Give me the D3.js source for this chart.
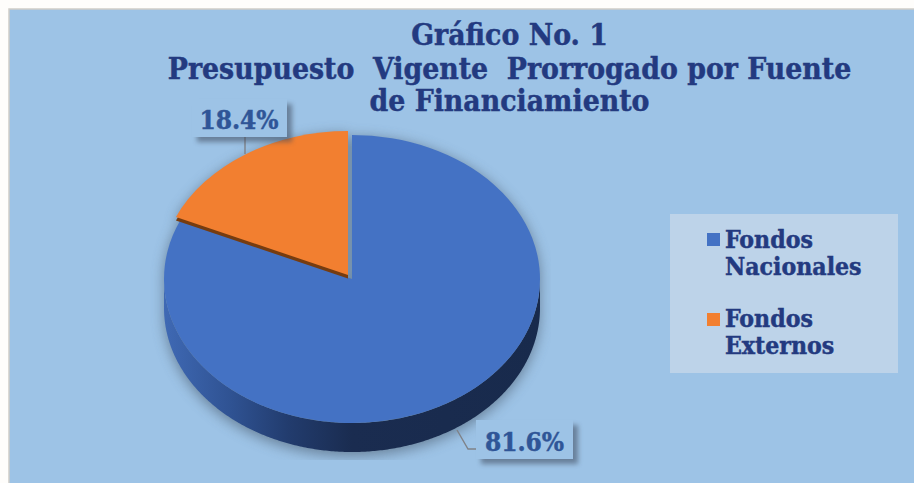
<!DOCTYPE html>
<html><head><meta charset="utf-8">
<script src="https://cdnjs.cloudflare.com/ajax/libs/d3/7.8.5/d3.min.js"></script>
<style>html,body{margin:0;padding:0;background:#fefdfb;overflow:hidden}svg{display:block}
text{font-family:"DejaVu Serif",serif;font-weight:700;font-stretch:condensed;stroke-width:0.45px;paint-order:stroke}</style></head><body>
<svg id="c" width="914" height="483"></svg>
<script>
const categories = ["Fondos Nacionales", "Fondos Externos"];
const values = [81.6, 18.4];
const valueLabels = ["81.6%", "18.4%"];
const titleLines = ["Gráfico No. 1", "Presupuesto  Vigente  Prorrogado por Fuente", "de Financiamiento"];
const legendLines = [["Fondos", "Nacionales"], ["Fondos", "Externos"]];
const colors = ["#4472C4", "#F27F30"];

const svg = d3.select("#c");
const defs = svg.append("defs");
const sideGrad = defs.append("linearGradient").attr("id", "side");
[[0, "#3F69B4"], [0.18, "#2F5292"], [0.33, "#223C6E"], [0.5, "#1A2C50"], [1, "#182A4C"]].forEach(s =>
  sideGrad.append("stop").attr("offset", s[0]).attr("stop-color", s[1]));
const shadow = defs.append("filter").attr("id", "pieShadow").attr("filterUnits", "userSpaceOnUse")
  .attr("x", 148).attr("y", 100).attr("width", 403).attr("height", 360);
shadow.append("feGaussianBlur").attr("stdDeviation", 6.5);
const boxShadow = defs.append("filter").attr("id", "boxShadow").attr("x", "-20%").attr("y", "-30%").attr("width", "140%").attr("height", "170%");
boxShadow.append("feGaussianBlur").attr("stdDeviation", 2.5);

svg.append("rect").attr("x", 9).attr("y", 9).attr("width", 920).attr("height", 490)
  .attr("fill", "#9DC3E6").attr("stroke", "#cfcdc8").attr("stroke-width", 1.5);

const cx = 352, cy = 279, rx = 188, ry = 144, depth = 29;
const squash = ry / rx;
const pie = d3.pie().sort(null).value(d => d)(values);
const arc = d3.arc().innerRadius(0).outerRadius(rx);
const wedge = (d, dx, dy) => `translate(${cx + dx},${cy + dy}) scale(1,${squash})`;

const lowerAngles = d3.range(Math.PI / 2, 3 * Math.PI / 2 + 0.005, 0.01);
const sideArea = d3.area()
  .x(a => cx + rx * Math.sin(a))
  .y0(a => cy - ry * Math.cos(a))
  .y1(a => cy - ry * Math.cos(a) + depth);

const sh = svg.append("g").attr("filter", "url(#pieShadow)").attr("opacity", 0.62);
sh.append("path").attr("d", arc(pie[0])).attr("transform", wedge(pie[0], 0, 2)).attr("fill", "#4a5a6c");
sh.append("path").attr("d", arc(pie[1])).attr("transform", wedge(pie[1], -4, -1)).attr("fill", "#4a5a6c");
sh.append("path").attr("d", sideArea(lowerAngles)).attr("transform", "translate(0,4)").attr("fill", "#4a5a6c");

svg.append("path").attr("d", sideArea(lowerAngles)).attr("fill", "url(#side)");
svg.append("path").attr("d", arc(pie[0])).attr("transform", wedge(pie[0], 0, 0)).attr("fill", colors[0]);
svg.append("path").attr("d", arc(pie[1])).attr("transform", wedge(pie[1], -4, -0.5)).attr("fill", "#763C10");
svg.append("path").attr("d", arc(pie[1])).attr("transform", wedge(pie[1], -4, -4)).attr("fill", colors[1]);

const leaders = [[[457, 430], [468, 449], [481, 449]], [[245, 134], [245, 154]]];
const boxes = [{x: 476, y: 420, w: 97, h: 39, tx: 524.5, ty: 451}, {x: 192, y: 99, w: 95, h: 38, tx: 239, ty: 129}];
leaders.forEach(l => svg.append("path").attr("d", d3.line()(l)).attr("fill", "none").attr("stroke", "#7f8288").attr("stroke-width", 1.4));
boxes.forEach((b, i) => {
  svg.append("rect").attr("x", b.x + 5).attr("y", b.y + 5).attr("width", b.w).attr("height", b.h)
    .attr("fill", "#3d4a5c").attr("opacity", 0.55).attr("filter", "url(#boxShadow)");
  svg.append("rect").attr("x", b.x).attr("y", b.y).attr("width", b.w).attr("height", b.h).attr("fill", "#9DC3E6");
  svg.append("text").attr("x", b.tx).attr("y", b.ty).attr("text-anchor", "middle")
    .attr("font-size", 26).attr("fill", "#2F5597").attr("stroke", "#2F5597").text(valueLabels[i]);
});

const titleY = [45, 79, 111];
titleLines.forEach((t, i) => svg.append("text").attr("x", 509.5).attr("y", titleY[i]).attr("text-anchor", "middle")
  .attr("font-size", 29.8).attr("fill", "#233A80").attr("stroke", "#233A80").style("white-space", "pre").text(t));

svg.append("rect").attr("x", 670).attr("y", 214).attr("width", 228).attr("height", 159).attr("fill", "#BDD3E9");
const legendY = [[248, 275], [327, 354]];
const swatchY = [233, 313];
categories.forEach((c, i) => {
  svg.append("rect").attr("x", 707).attr("y", swatchY[i]).attr("width", 13).attr("height", 13).attr("fill", colors[i]);
  legendLines[i].forEach((t, j) => svg.append("text").attr("x", 725).attr("y", legendY[i][j])
    .attr("font-size", 24.6).attr("fill", "#233A80").attr("stroke", "#233A80").text(t));
});
</script></body></html>
